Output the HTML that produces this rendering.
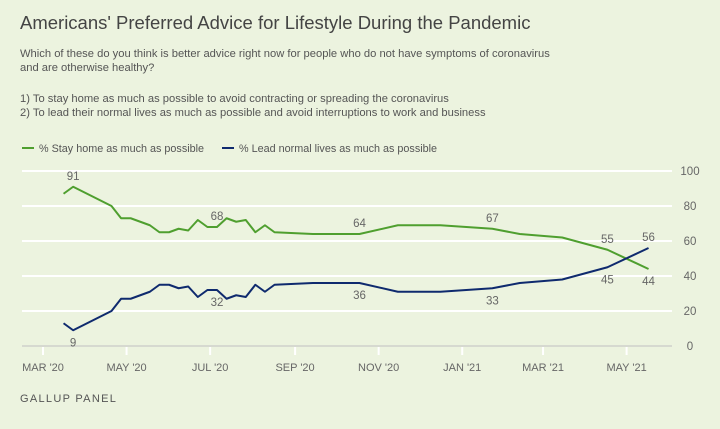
<!DOCTYPE html>
<html><head><meta charset="utf-8"><style>
body{margin:0;width:720px;height:429px;background:#ecf3df;font-family:"Liberation Sans",sans-serif;overflow:hidden;position:relative}
.t{position:absolute;left:20px;top:12px;font-size:18.5px;color:#444}
.s{position:absolute;left:20px;font-size:11.2px;color:#555;line-height:14px}
.f{position:absolute;left:20px;top:393px;font-size:11px;letter-spacing:1.3px;color:#555}
</style></head><body>
<div class="t">Americans' Preferred Advice for Lifestyle During the Pandemic</div>
<div class="s" style="top:47px">Which of these do you think is better advice right now for people who do not have symptoms of coronavirus<br>and are otherwise healthy?</div>
<div class="s" style="top:92px">1) To stay home as much as possible to avoid contracting or spreading the coronavirus<br>2) To lead their normal lives as much as possible and avoid interruptions to work and business</div>
<div class="f">GALLUP PANEL</div>
<svg id="c" width="720" height="429" style="position:absolute;left:0;top:0"></svg>
<script>
const dates=["2020-03-16","2020-03-23","2020-04-20","2020-04-27","2020-05-04","2020-05-18","2020-05-25","2020-06-01","2020-06-08","2020-06-15","2020-06-22","2020-06-29","2020-07-06","2020-07-13","2020-07-20","2020-07-27","2020-08-03","2020-08-10","2020-08-17","2020-09-14","2020-10-18","2020-11-15","2020-12-16","2021-01-23","2021-02-12","2021-03-15","2021-04-17","2021-05-17"];
const stayHome=[87,91,80,73,73,69,65,65,67,66,72,68,68,73,71,72,65,69,65,64,64,69,69,67,64,62,55,44];
const leadNormal=[13,9,20,27,27,31,35,35,33,34,28,32,32,27,29,28,35,31,35,36,36,31,31,33,36,38,45,56];
const yTicks=[0,20,40,60,80,100];
const xTickDates=["2020-03-01","2020-05-01","2020-07-01","2020-09-01","2020-11-01","2021-01-01","2021-03-01","2021-05-01"];
const xTickLabels=["MAR '20","MAY '20","JUL '20","SEP '20","NOV '20","JAN '21","MAR '21","MAY '21"];
const labelIdx=[1,12,20,23,26,27];
const svg=document.getElementById('c');const NS="http://www.w3.org/2000/svg";
const t0=Date.parse("2020-03-01");
const X=d=>43+(Date.parse(d)-t0)/864e5*1.37;
const Y=v=>346-v*1.75;
function el(tag,attrs,name,txt){const e=document.createElementNS(NS,tag);for(const k in attrs)e.setAttribute(k,attrs[k]);


if(txt!=null)e.textContent=txt;svg.appendChild(e);return e;}
yTicks.forEach(v=>{el('line',{x1:22,x2:672,y1:Y(v),y2:Y(v),stroke:v===0?'#d6d9d0':'#fff','stroke-width':2},'gridline-'+v);
el('text',{x:690,y:Y(v)+4,'font-size':11.5,fill:'#666','text-anchor':'middle'},'y-tick-'+v,String(v));});
xTickDates.forEach((d,i)=>{el('line',{x1:X(d),x2:X(d),y1:347,y2:355,stroke:'#fff','stroke-width':2},'x-tick-mark');
el('text',{x:X(d),y:371,'font-size':11,fill:'#666','text-anchor':'middle'},'x-tick-label',xTickLabels[i]);});
function line(vals,col,name){el('polyline',{points:vals.map((v,i)=>X(dates[i])+','+Y(v)).join(' '),fill:'none',stroke:col,'stroke-width':2,'stroke-linejoin':'round'},name);}
line(stayHome,'#4f9f2f','stay-home-line');line(leadNormal,'#0f2a6e','lead-normal-line');
labelIdx.forEach(i=>{const a=stayHome[i]>=leadNormal[i];
el('text',{x:X(dates[i]),y:Y(stayHome[i])+(a?-7:16),'font-size':11.5,fill:'#666','text-anchor':'middle'},'stay-home-value',String(stayHome[i]));
el('text',{x:X(dates[i]),y:Y(leadNormal[i])+(a?16:-7),'font-size':11.5,fill:'#666','text-anchor':'middle'},'lead-normal-value',String(leadNormal[i]));});
el('line',{x1:22,x2:34,y1:148,y2:148,stroke:'#4f9f2f','stroke-width':2},'legend-stay-home-swatch');
el('text',{x:39,y:152,'font-size':10.8,fill:'#555'},'legend-stay-home','% Stay home as much as possible');
el('line',{x1:222,x2:234,y1:148,y2:148,stroke:'#0f2a6e','stroke-width':2},'legend-lead-normal-swatch');
el('text',{x:239,y:152,'font-size':10.8,fill:'#555'},'legend-lead-normal','% Lead normal lives as much as possible');
</script>
</body></html>
